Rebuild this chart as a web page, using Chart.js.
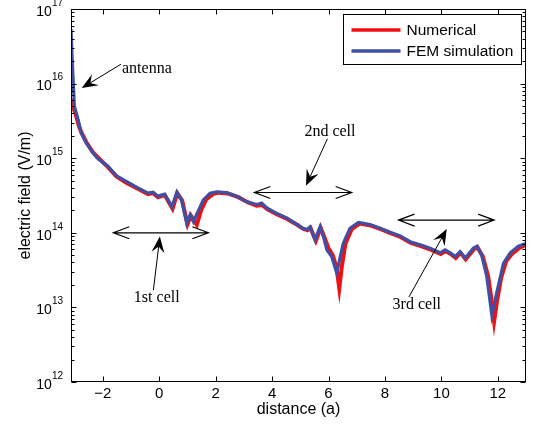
<!DOCTYPE html>
<html><head><meta charset="utf-8">
<script src="https://cdn.jsdelivr.net/npm/chart.js@4.4.1/dist/chart.umd.min.js"></script>
<style>html,body{margin:0;padding:0;background:#fff;}canvas{display:block;}</style>
</head><body>
<canvas id="c" width="537" height="430"></canvas>
<script>
// ---- data ----
const femDistance = [-3.13,-3.07,-3.01,-2.88,-2.77,-2.59,-2.35,-2.2,-2.06,-1.82,-1.52,-1.17,-0.76,-0.40,-0.22,-0.05,0.19,0.45,0.62,0.79,0.97,1.09,1.21,1.38,1.56,1.80,2.04,2.39,2.74,3.10,3.45,3.63,3.81,4.16,4.52,4.87,5.05,5.23,5.34,5.52,5.70,5.82,5.94,6.11,6.29,6.40,6.52,6.76,7.06,7.47,7.83,8.18,8.54,8.89,9.25,9.60,9.96,10.13,10.31,10.49,10.66,10.84,11.02,11.13,11.26,11.43,11.61,11.79,11.96,12.20,12.44,12.73,13.0];
const femField = [5.4e16,1.5e16,5.0e15,3.3e15,2.2e15,1.6e15,1.17e15,1.0e15,9.1e14,7.8e14,5.8e14,4.9e14,4.0e14,3.4e14,3.5e14,3.1e14,3.3e14,2.24e14,3.5e14,2.75e14,1.35e14,1.74e14,1.41e14,1.95e14,2.75e14,3.4e14,3.55e14,3.45e14,3.1e14,2.6e14,2.4e14,2.5e14,2.15e14,1.82e14,1.58e14,1.3e14,1.17e14,1.1e14,1.2e14,8.1e13,1.2e14,8.9e13,5.9e13,4.8e13,2.9e13,4.5e13,7.2e13,1.15e14,1.38e14,1.29e14,1.15e14,1.02e14,9.1e13,7.6e13,6.9e13,6.2e13,5.4e13,5.9e13,5.4e13,4.8e13,5.6e13,4.6e13,5.5e13,6.2e13,6.6e13,5.0e13,2.6e13,7.8e12,1.55e13,3.9e13,5.4e13,6.6e13,7.2e13];
const numDistance = [-3.13,-3.06,-2.94,-2.85,-2.77,-2.59,-2.35,-2.2,-2.06,-1.82,-1.52,-1.17,-0.76,-0.40,-0.22,-0.05,0.19,0.47,0.64,0.81,1.00,1.12,1.33,1.48,1.66,1.90,2.10,2.45,2.80,3.15,3.45,3.65,3.85,4.20,4.55,4.90,5.08,5.25,5.36,5.55,5.72,5.86,6.00,6.15,6.28,6.38,6.47,6.60,6.82,7.10,7.50,7.85,8.20,8.55,8.90,9.25,9.60,9.98,10.15,10.33,10.51,10.68,10.86,11.04,11.15,11.28,11.47,11.66,11.80,11.87,11.98,12.12,12.30,12.50,12.78,13.0];
const numField = [6.2e15,5.0e15,3.6e15,2.7e15,2.25e15,1.65e15,1.2e15,1.05e15,9.3e14,7.6e14,5.7e14,4.7e14,3.9e14,3.3e14,3.4e14,3.0e14,3.2e14,2.1e14,3.4e14,2.7e14,1.3e14,1.7e14,1.28e14,2.0e14,2.8e14,3.3e14,3.45e14,3.35e14,3.0e14,2.55e14,2.3e14,2.35e14,2.05e14,1.75e14,1.52e14,1.27e14,1.14e14,1.08e14,1.16e14,7.8e13,1.17e14,8.6e13,6.2e13,5.0e13,3.5e13,1.8e13,3.5e13,7.2e13,1.12e14,1.33e14,1.25e14,1.12e14,9.9e13,8.8e13,7.4e13,6.7e13,6.0e13,5.2e13,5.7e13,5.2e13,4.6e13,5.4e13,4.4e13,5.3e13,6.0e13,6.4e13,4.8e13,2.6e13,1.1e13,6.5e12,1.26e13,2.5e13,4.2e13,5.2e13,6.3e13,6.9e13];
const seriesNames = ['Numerical', 'FEM simulation'];
const xTickValues = [-2, 0, 2, 4, 6, 8, 10, 12];
const yTickExponents = [12, 13, 14, 15, 16, 17];
const xLabel = 'distance (a)';
const yLabel = 'electric field (V/m)';

// ---- annotation placement (data units: x, log10 of field) ----
const notes = [
  {text: 'antenna',  tx: -0.44, ty: 16.20, from: [-1.36, 16.26], to: [-2.75, 15.94]},
  {text: '1st cell', tx: -0.09, ty: 13.13, from: [-0.21, 13.23], to: [0.02, 13.95]},
  {text: '2nd cell', tx: 6.05,  ty: 15.36, from: [5.96, 15.26],  to: [5.20, 14.63]},
  {text: '3rd cell', tx: 9.13,  ty: 13.04, from: [8.85, 13.14],  to: [10.19, 14.05]}
];
const spans = [
  {x1: -1.63, x2: 1.74, y: 14.0},
  {x1: 3.37, x2: 6.82, y: 14.54},
  {x1: 8.48, x2: 11.87, y: 14.17}
];

const RED = '#f01010', BLUE = '#3f4fa3';
const SANS = '"Liberation Sans", Arial, sans-serif';
const SERIF = '"Liberation Serif", "Times New Roman", serif';

function pts(xs, ys){ return xs.map((x,i)=>({x:x, y:ys[i]})); }

const decor = {
  id: 'decor',
  afterDatasetsDraw(chart){
    const ctx = chart.ctx, a = chart.chartArea, xs = chart.scales.x, ys = chart.scales.y;
    ctx.save();
    // frame
    ctx.strokeStyle = '#000'; ctx.lineWidth = 1;
    const L = Math.round(a.left)+0.5, R = Math.round(a.right)-0.5, T = Math.round(a.top)+0.5, B = Math.round(a.bottom)-0.5;
    ctx.strokeRect(L, T, R-L, B-T);
    // x ticks (inward, top & bottom)
    ctx.beginPath();
    xTickValues.forEach(v=>{
      const p = Math.round(xs.getPixelForValue(v))+0.5;
      ctx.moveTo(p, B); ctx.lineTo(p, B-5);
      ctx.moveTo(p, T); ctx.lineTo(p, T+5);
    });
    // y ticks major & minor
    yTickExponents.forEach((e, i)=>{
      const p = Math.round(ys.getPixelForValue(Math.pow(10, e)))+0.5;
      ctx.moveTo(L, p); ctx.lineTo(L+5, p);
      ctx.moveTo(R, p); ctx.lineTo(R-5, p);
      if (i < yTickExponents.length-1) {
        for (let k=2;k<=9;k++){
          const q = Math.round(ys.getPixelForValue(k*Math.pow(10, e)))+0.5;
          ctx.moveTo(L, q); ctx.lineTo(L+3, q);
          ctx.moveTo(R, q); ctx.lineTo(R-3, q);
        }
      }
    });
    ctx.stroke();

    // y tick labels 10^n
    ctx.fillStyle = '#000';
    ctx.textBaseline = 'middle';
    yTickExponents.forEach(e=>{
      const p = ys.getPixelForValue(Math.pow(10, e));
      ctx.font = '10px ' + SANS;
      ctx.textAlign = 'right';
      const ew = ctx.measureText(String(e)).width;
      ctx.fillText(String(e), a.left - 8, p - 6);
      ctx.font = '14px ' + SANS;
      ctx.fillText('10', a.left - 8 - ew, p + 3);
    });

    // annotations
    const P = (x, ly) => [xs.getPixelForValue(x), ys.getPixelForValue(Math.pow(10, ly))];
    ctx.font = '16px ' + SERIF;
    ctx.textAlign = 'center';
    ctx.textBaseline = 'middle';
    notes.forEach(n=>{
      const [tx, ty] = P(n.tx, n.ty);
      ctx.fillText(n.text, tx, ty);
      const [x0, y0] = P(n.from[0], n.from[1]);
      const [x1, y1] = P(n.to[0], n.to[1]);
      const ang = Math.atan2(y1-y0, x1-x0);
      const len = 16, hw = 6.5, notch = 10;
      ctx.beginPath();
      ctx.lineWidth = 1;
      ctx.moveTo(x0, y0);
      ctx.lineTo(x1 - Math.cos(ang)*notch, y1 - Math.sin(ang)*notch);
      ctx.stroke();
      const c = Math.cos(ang), s = Math.sin(ang);
      ctx.beginPath();
      ctx.moveTo(x1, y1);
      ctx.lineTo(x1 - c*len - s*hw, y1 - s*len + c*hw);
      ctx.lineTo(x1 - c*notch, y1 - s*notch);
      ctx.lineTo(x1 - c*len + s*hw, y1 - s*len - c*hw);
      ctx.closePath();
      ctx.fill();
    });
    spans.forEach(sp=>{
      const [xa, y] = P(sp.x1, sp.y);
      const [xb] = P(sp.x2, sp.y);
      ctx.lineWidth = 1.2;
      ctx.beginPath();
      ctx.moveTo(xa, y); ctx.lineTo(xb, y);
      ctx.moveTo(xa+16, y-6); ctx.lineTo(xa, y); ctx.lineTo(xa+16, y+6);
      ctx.moveTo(xb-16, y-6); ctx.lineTo(xb, y); ctx.lineTo(xb-16, y+6);
      ctx.stroke();
    });

    // legend
    const bw = 178, bh = 50;
    const bx = Math.round(a.right - 5 - bw) + 0.5, by = Math.round(a.top + 5) + 0.5;
    ctx.fillStyle = '#fff';
    ctx.fillRect(bx, by, bw, bh);
    ctx.strokeStyle = '#000'; ctx.lineWidth = 1;
    ctx.strokeRect(bx, by, bw, bh);
    const rows = [[seriesNames[0], RED, by + 15.5], [seriesNames[1], BLUE, by + 36.5]];
    ctx.font = '15.5px ' + SANS;
    ctx.textAlign = 'left';
    ctx.textBaseline = 'middle';
    rows.forEach(r=>{
      ctx.strokeStyle = r[1]; ctx.lineWidth = 3.5;
      ctx.beginPath(); ctx.moveTo(bx+8, r[2]); ctx.lineTo(bx+57, r[2]); ctx.stroke();
      ctx.fillStyle = '#000';
      ctx.fillText(r[0], bx + 63, r[2] + 1);
    });
    ctx.restore();
  }
};

new Chart(document.getElementById('c'), {
  type: 'line',
  data: {
    datasets: [
      {label: seriesNames[0], data: pts(numDistance, numField), borderColor: RED, backgroundColor: RED, borderWidth: 4, pointRadius: 0, tension: 0, order: 1},
      {label: seriesNames[1], data: pts(femDistance, femField), borderColor: BLUE, backgroundColor: BLUE, borderWidth: 3.2, pointRadius: 0, tension: 0, order: 0}
    ]
  },
  options: {
    responsive: false,
    animation: false,
    layout: {padding: {top: 9, right: 11, left: 0, bottom: 0}},
    plugins: {legend: {display: false}, tooltip: {enabled: false}},
    scales: {
      x: {
        type: 'linear', min: -3.13, max: 13,
        grid: {display: false, drawTicks: false}, border: {display: false},
        afterBuildTicks: s => { s.ticks = xTickValues.map(v=>({value: v})); },
        afterFit: s => { s.height = 48; },
        ticks: {color: '#000', font: {family: SANS, size: 15}, padding: 3, maxRotation: 0,
          callback: v => (v < 0 ? '\u2212' + Math.abs(v) : String(v))},
        title: {display: true, text: xLabel, color: '#000', font: {family: SANS, size: 16}, padding: {top: 0, bottom: 11}}
      },
      y: {
        type: 'logarithmic', min: 1e12, max: 1e17,
        grid: {display: false, drawTicks: false}, border: {display: false},
        afterBuildTicks: s => { s.ticks = yTickExponents.map(e=>({value: Math.pow(10, e)})); },
        afterFit: s => { s.width = 71; },
        ticks: {display: false},
        title: {display: true, text: yLabel, color: '#000', font: {family: SANS, size: 16}, padding: {top: 16, bottom: 0}}
      }
    }
  },
  plugins: [decor]
});
</script>
</body></html>
